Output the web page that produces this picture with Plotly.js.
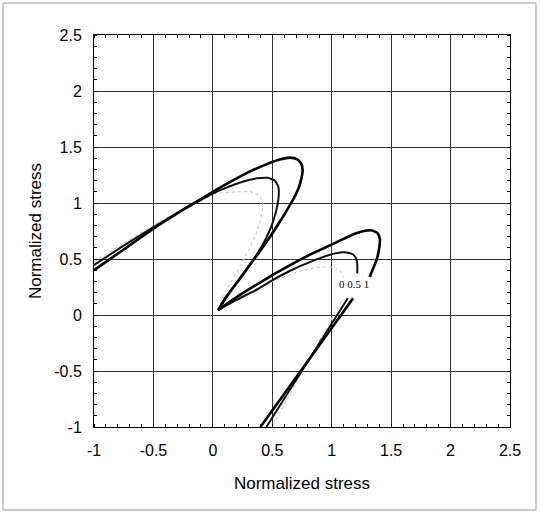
<!DOCTYPE html>
<html>
<head>
<meta charset="utf-8">
<script src="https://cdn.plot.ly/plotly-3.0.1.min.js"></script>
<style>html,body{margin:0;padding:0;background:#fff;}#chart{width:540px;height:513px;}</style>
</head>
<body>
<div id="chart"></div>
<script>
// Tick values and labels
const tickVals = [-1, -0.5, 0, 0.5, 1, 1.5, 2, 2.5];
const tickText = ['-1', '-0.5', '0', '0.5', '1', '1.5', '2', '2.5'];

// Curve for parameter 1 (thick black)
const s1UpperX = [-1.0, -0.75, -0.5, -0.25, 0.0, 0.15, 0.30, 0.45, 0.57, 0.65, 0.71, 0.745, 0.755, 0.745, 0.72, 0.68, 0.62, 0.55, 0.47, 0.39, 0.30, 0.21, 0.12, 0.045];
const s1UpperY = [0.40, 0.585, 0.77, 0.94, 1.10, 1.19, 1.275, 1.345, 1.39, 1.405, 1.39, 1.35, 1.29, 1.22, 1.13, 1.04, 0.93, 0.81, 0.68, 0.56, 0.43, 0.30, 0.17, 0.045];
const s1LowerX = [0.045, 0.20, 0.35, 0.50, 0.65, 0.80, 0.95, 1.10, 1.20, 1.28, 1.34, 1.385, 1.405, 1.40, 1.38, 1.35, 1.32];
const s1LowerY = [0.045, 0.16, 0.26, 0.355, 0.445, 0.53, 0.605, 0.68, 0.727, 0.752, 0.755, 0.73, 0.68, 0.60, 0.50, 0.42, 0.34];
const s1LineX = [1.18, 0.40];
const s1LineY = [0.15, -1.0];

// Curve for parameter 0.5 (medium black)
const s05UpperX = [-1.0, -0.75, -0.5, -0.25, 0.0, 0.12, 0.25, 0.37, 0.46, 0.52, 0.55, 0.555, 0.545, 0.52, 0.48, 0.42, 0.35, 0.27, 0.18, 0.10, 0.045];
const s05UpperY = [0.446, 0.62, 0.785, 0.94, 1.085, 1.14, 1.19, 1.22, 1.225, 1.20, 1.15, 1.08, 0.99, 0.88, 0.76, 0.63, 0.51, 0.385, 0.26, 0.15, 0.045];
const s05LowerX = [0.045, 0.20, 0.35, 0.50, 0.65, 0.80, 0.92, 1.02, 1.09, 1.14, 1.18, 1.205, 1.215, 1.215];
const s05LowerY = [0.045, 0.135, 0.215, 0.31, 0.395, 0.465, 0.515, 0.548, 0.56, 0.556, 0.54, 0.505, 0.45, 0.37];
const s05LineX = [1.135, 0.45];
const s05LineY = [0.15, -1.0];

// Curve for parameter 0 (light grey dotted)
const s0UpperX = [-1.0, -0.75, -0.5, -0.25, 0.0, 0.2, 0.32, 0.40, 0.42, 0.40, 0.36, 0.30, 0.20, 0.10, 0.045];
const s0UpperY = [0.476, 0.64, 0.80, 0.95, 1.08, 1.10, 1.10, 1.06, 0.98, 0.85, 0.72, 0.58, 0.38, 0.20, 0.045];
const s0LowerX = [0.045, 0.30, 0.50, 0.70, 0.85, 0.95, 1.03, 1.08, 1.10];
const s0LowerY = [0.045, 0.20, 0.30, 0.38, 0.42, 0.43, 0.42, 0.38, 0.33];
const s0LineX = [1.08, 0.495];
const s0LineY = [0.12, -1.0];

const curveLabel = '0 0.5 1';

function join(parts) { const out = []; parts.forEach((p, i) => { if (i) out.push(null); out.push(...p); }); return out; }

const traces = [
  {x: join([s0UpperX, s0LowerX, s0LineX]), y: join([s0UpperY, s0LowerY, s0LineY]), name: '0',
   mode: 'lines', line: {color: '#cccccc', width: 1.2, dash: 'dot', shape: 'spline', smoothing: 0.5}},
  {x: join([s05UpperX, s05LowerX, s05LineX]), y: join([s05UpperY, s05LowerY, s05LineY]), name: '0.5',
   mode: 'lines', line: {color: '#111', width: 2, shape: 'spline', smoothing: 0.5}},
  {x: join([s1UpperX, s1LowerX, s1LineX]), y: join([s1UpperY, s1LowerY, s1LineY]), name: '1',
   mode: 'lines', line: {color: '#000', width: 2.6, shape: 'spline', smoothing: 0.5}}
];

const axisCommon = {
  range: [-1, 2.5], tickvals: tickVals, ticktext: tickText,
  showgrid: true, gridcolor: '#333', gridwidth: 1,
  zeroline: false, showline: true, linecolor: '#000', linewidth: 1, mirror: 'ticks',
  ticks: '', tickfont: {family: 'Liberation Sans, Arial, sans-serif', size: 16, color: '#000'},
  minor: {dtick: 0.1, ticks: 'inside', ticklen: 3, tickcolor: '#000', tickwidth: 1, showgrid: false}
};

const layout = {
  width: 540, height: 513,
  margin: {l: 94, r: 30, t: 35, b: 86},
  paper_bgcolor: '#fff', plot_bgcolor: '#fff',
  showlegend: false,
  xaxis: Object.assign({}, axisCommon, {
    title: {text: 'Normalized stress', font: {family: 'Liberation Sans, Arial, sans-serif', size: 17, color: '#000'}, standoff: 18},
    ticklabelstandoff: 9
  }),
  yaxis: Object.assign({}, axisCommon, {
    title: {text: 'Normalized stress', font: {family: 'Liberation Sans, Arial, sans-serif', size: 17, color: '#000'}, standoff: 8},
    ticklabelstandoff: 8
  }),
  annotations: [{
    x: 1.185, y: 0.28, xref: 'x', yref: 'y', text: curveLabel, showarrow: false,
    font: {family: 'Liberation Serif, Times New Roman, serif', size: 11, color: '#000'}
  }],
  shapes: [{
    type: 'rect', xref: 'paper', yref: 'paper',
    x0: -0.21875, x1: 1.0625, y0: -0.2117, y1: 1.0816,
    line: {color: '#999', width: 1}, fillcolor: 'rgba(0,0,0,0)', layer: 'below'
  }]
};

Plotly.newPlot('chart', traces, layout, {staticPlot: true, displayModeBar: false});
</script>
</body>
</html>
